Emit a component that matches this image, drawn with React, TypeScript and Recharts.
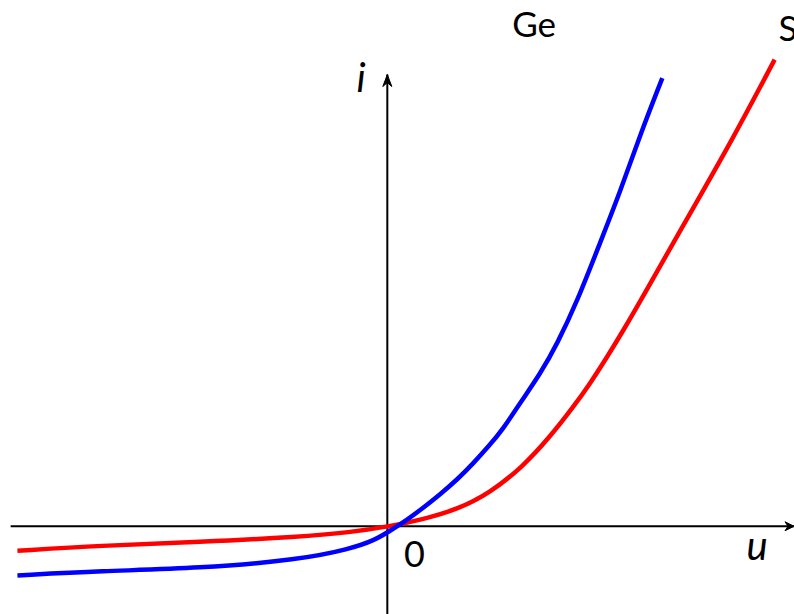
import { LineChart, Line, XAxis, YAxis, ReferenceLine, ReferenceDot } from "recharts";

// I-U characteristics of germanium and silicon diodes (arbitrary units)
const geU = [-3.82, -2.97, -1.94, -0.9, -0.39, -0.13, 0.03, 0.2, 0.37, 0.54, 0.72, 0.89, 1.06, 1.19, 1.38, 1.58, 1.75, 1.96, 2.2, 2.4, 2.61, 2.84];
const geI = [-0.56, -0.51, -0.48, -0.38, -0.26, -0.16, -0.05, 0.07, 0.21, 0.36, 0.53, 0.72, 0.93, 1.1, 1.42, 1.74, 2.07, 2.56, 3.24, 3.8, 4.46, 5.11];

const siU = [-3.82, -2.97, -1.94, -0.9, -0.39, 0.03, 0.37, 0.72, 1.06, 1.4, 1.68, 1.92, 2.09, 2.27, 2.43, 2.63, 3.05, 3.57, 4.0];
const siI = [-0.28, -0.22, -0.18, -0.12, -0.07, 0.0, 0.08, 0.19, 0.38, 0.68, 1.02, 1.36, 1.62, 1.93, 2.22, 2.6, 3.42, 4.42, 5.32];

const U_DOMAIN = [-4, 4.2];
const I_DOMAIN = [-1, 6];
const U_AXIS_START = -3.89;
const I_AXIS_TOP = 5.15;

const geData = geU.map((u, k) => ({ u, i: geI[k] }));
const siData = siU.map((u, k) => ({ u, i: siI[k] }));

const FONT = "Lato, 'Open Sans', sans-serif";

// axis line with a small stealth arrowhead at its far end
const arrowLine = (dir: "right" | "up") => (props: any) => {
  const { x1, y1, x2, y2 } = props;
  let head = "";
  if (dir === "right") {
    const tx = Math.max(x1, x2), ty = y1;
    head = `M${tx},${ty} L${tx - 9},${ty - 4.5} L${tx - 6},${ty} L${tx - 9},${ty + 4.5} Z`;
  } else {
    const tx = x1, ty = Math.min(y1, y2);
    head = `M${tx},${ty} L${tx - 4.5},${ty + 12} L${tx},${ty + 8} L${tx + 4.5},${ty + 12} Z`;
  }
  return (
    <g>
      <line x1={x1} y1={y1} x2={x2} y2={y2} stroke="#000" strokeWidth={2} />
      <path d={head} fill="#000" stroke="#000" strokeWidth={1} />
    </g>
  );
};

const textAt = (txt: string, size: number, italic: boolean, anchor: "start" | "middle") => (props: any) => (
  <text
    x={props.cx}
    y={props.cy}
    fontSize={size}
    fontFamily={FONT}
    fontStyle={italic ? "italic" : "normal"}
    textAnchor={anchor}
    fill="#000"
  >
    {txt}
  </text>
);

export default function App() {
  return (
    <div style={{ position: "absolute", left: 0, top: 0, width: 794, height: 614, background: "#fff" }}>
      <LineChart width={794} height={614} margin={{ top: 0, right: 0, bottom: 0, left: 0 }}>
        <XAxis type="number" dataKey="u" domain={U_DOMAIN} allowDataOverflow hide />
        <YAxis type="number" dataKey="i" domain={I_DOMAIN} allowDataOverflow hide />

        <ReferenceLine
          segment={[{ x: U_AXIS_START, y: 0 }, { x: U_DOMAIN[1], y: 0 }]}
          shape={arrowLine("right")}
          ifOverflow="visible"
        />
        <ReferenceLine
          segment={[{ x: 0, y: I_DOMAIN[0] }, { x: 0, y: I_AXIS_TOP }]}
          shape={arrowLine("up")}
          ifOverflow="visible"
        />

        <Line data={siData} dataKey="i" type="basis" stroke="#ff0000" strokeWidth={4.5} dot={false} activeDot={false} isAnimationActive={false} />
        <Line data={geData} dataKey="i" type="basis" stroke="#0000ff" strokeWidth={4.5} dot={false} activeDot={false} isAnimationActive={false} />

        <ReferenceDot x={1.29} y={5.58} r={0} shape={textAt("Ge", 35, false, "start")} ifOverflow="visible" />
        <ReferenceDot x={4.04} y={5.53} r={0} shape={textAt("Si", 35, false, "start")} ifOverflow="visible" />
        <ReferenceDot x={-0.27} y={4.95} r={0} shape={textAt("i", 40, true, "middle")} ifOverflow="visible" />
        <ReferenceDot x={3.82} y={-0.38} r={0} shape={textAt("u", 40, true, "middle")} ifOverflow="visible" />
        <ReferenceDot x={0.28} y={-0.465} r={0} shape={textAt("0", 36, false, "middle")} ifOverflow="visible" />
      </LineChart>
    </div>
  );
}
